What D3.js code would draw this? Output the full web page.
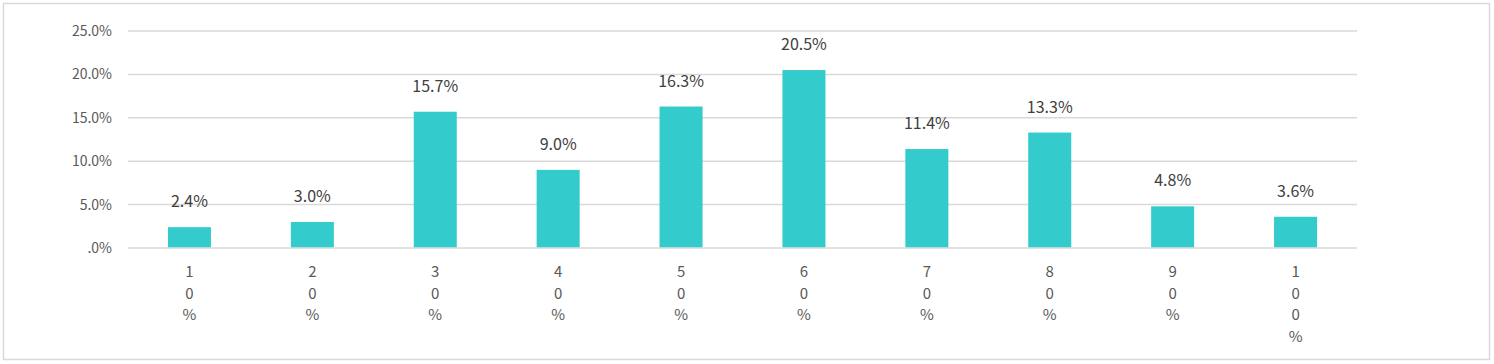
<!DOCTYPE html>
<html lang="ko">
<head>
<meta charset="UTF-8">
<title>분포</title>
<script src="https://d3js.org/d3.v7.min.js"></script>
<style>
  body {margin:0; background:#fff;}
  text {font-family: "Noto Sans CJK KR", "Noto Sans", sans-serif;}
  .grid line {stroke:#d9d9d9; stroke-width:1.5px;}
  .ylab {fill:#595959; font-size:14px;}
  .xlab {fill:#595959; font-size:15px;}
  .val {fill:#404040; font-size:16px;}
  .bar {fill:#33cbcb;}
</style>
</head>
<body>
<div id="chart"></div>
<script>
var categories = ["10%","20%","30%","40%","50%","60%","70%","80%","90%","100%"];
var values = [2.4, 3.0, 15.7, 9.0, 16.3, 20.5, 11.4, 13.3, 4.8, 3.6];
var yTicks = [0, 5, 10, 15, 20, 25];
var yTickLabels = [".0%","5.0%","10.0%","15.0%","20.0%","25.0%"];

var W = 1494, H = 364;
var plot = {left:128, right:1357, top:31, bottom:248};

var svg = d3.select("#chart").append("svg")
    .attr("width", W).attr("height", H);

// outer frame
svg.append("rect")
    .attr("x", 3.5).attr("y", 3.5)
    .attr("width", 1486).attr("height", 356)
    .attr("fill", "none").attr("stroke", "#d9d9d9").attr("stroke-width", 1.5);

var x = d3.scaleBand()
    .domain(categories)
    .range([plot.left, plot.right])
    .paddingInner(0.65).paddingOuter(0.325);

var y = d3.scaleLinear()
    .domain([0, 25])
    .range([plot.bottom, plot.top]);

// gridlines
svg.append("g").attr("class", "grid")
    .selectAll("line").data(yTicks).enter().append("line")
    .attr("x1", plot.left).attr("x2", plot.right)
    .attr("y1", function(d) {return y(d)}).attr("y2", function(d) {return y(d)});

// y tick labels
svg.append("g").selectAll("text").data(yTicks).enter().append("text")
    .attr("class", "ylab")
    .attr("x", 112)
    .attr("y", function(d) {return y(d) + 5})
    .attr("text-anchor", "end")
    .text(function(d, i) {return yTickLabels[i]});

// bars
svg.append("g").selectAll("rect").data(values).enter().append("rect")
    .attr("class", "bar")
    .attr("x", function(d, i) {return x(categories[i])})
    .attr("width", x.bandwidth())
    .attr("y", function(d) {return y(d)})
    .attr("height", function(d) {return y(0) - y(d) - 0.75});

// value labels
svg.append("g").selectAll("text").data(values).enter().append("text")
    .attr("class", "val")
    .attr("x", function(d, i) {return x(categories[i]) + x.bandwidth()/2})
    .attr("y", function(d) {return y(d) - 20})
    .attr("text-anchor", "middle")
    .text(function(d) {return d.toFixed(1) + "%"});

// category labels, one character per line
var xl = svg.append("g").selectAll("text").data(categories).enter().append("text")
    .attr("class", "xlab")
    .attr("text-anchor", "middle")
    .attr("x", function(d) {return x(d) + x.bandwidth()/2})
    .attr("y", 277);
xl.selectAll("tspan").data(function(d) {return d.split("")}).enter().append("tspan")
    .attr("x", function() {return d3.select(this.parentNode).attr("x")})
    .attr("dy", function(d, i) {return i ? 21.7 : 0})
    .text(function(d) {return d});
</script>
</body>
</html>
